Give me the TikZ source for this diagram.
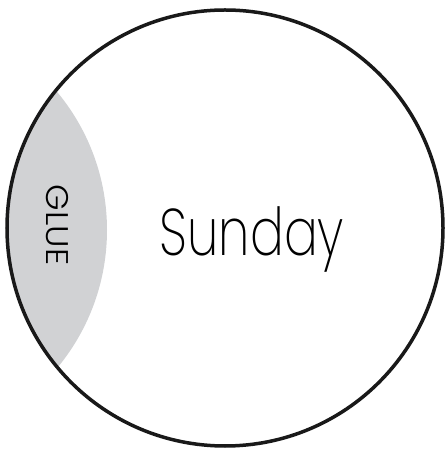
\documentclass[tikz,border=0pt]{standalone}
\usepackage{fontspec}
\setmainfont{Poppins}
\newfontfamily\thinfont{Poppins}[UprightFont=* ExtraLight]
\newfontfamily\lightfont{Poppins}[UprightFont=* Light]
\usepackage{tikz}
\usetikzlibrary{positioning}
\definecolor{gluegray}{RGB}{209,210,212}

\begin{document}
\begin{tikzpicture}[
  x=1pt, y=1pt,
  ring/.style={draw=black!90, line width=3.5pt},
  gluefill/.style={fill=gluegray},
  bigtext/.style={font=\thinfont\fontsize{#1}{#1}\selectfont, inner sep=0pt},
  gluetext/.style={font=\lightfont\fontsize{#1}{#1}\selectfont, inner sep=0pt},
]
  \useasboundingbox (0,0) rectangle (445,452);

  % Glue region (overlap with neighbouring day)
  \begin{scope}
    \clip (225,224) circle (218);
    \fill[gluefill] (-109,222) circle (216);
  \end{scope}

  % Day circle
  \draw[ring] (225,224) circle (218);

  % Labels
  \node[bigtext=66, xscale=0.76, anchor=base] (day) at (252,196) {Sunday};
  \node[gluetext=34, xscale=0.92, rotate=-90] (glue) at (57,227) {GLUE};
\end{tikzpicture}
\end{document}
